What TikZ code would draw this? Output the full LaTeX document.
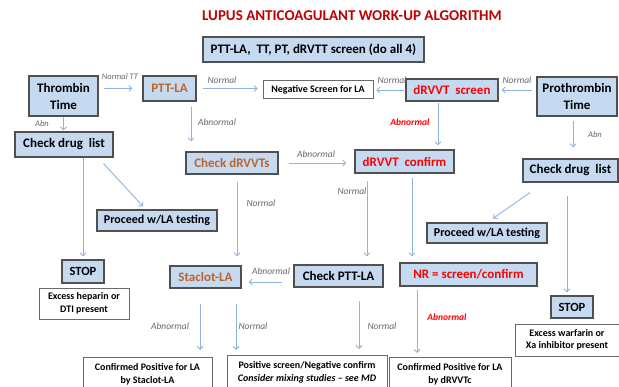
\documentclass[tikz,border=0pt]{standalone}
\usepackage{fontspec}
\setmainfont{Carlito}
\usetikzlibrary{arrows.meta,calc}
\definecolor{boxfill}{RGB}{197,217,241}
\definecolor{boxline}{RGB}{80,80,80}
\definecolor{arrc}{RGB}{141,180,226}
\definecolor{brownt}{RGB}{190,100,40}
\definecolor{titlered}{RGB}{192,0,0}
\definecolor{lblgray}{RGB}{105,105,105}
\begin{document}
\begin{tikzpicture}[x=1pt,y=-1pt,
  bluebox/.style={draw=boxline, line width=1.1pt, fill=boxfill, inner sep=0pt, align=center,
    font=\fontsize{13}{17}\selectfont\bfseries},
  whitebox/.style={draw=boxline!85, line width=0.8pt, fill=white, inner sep=0pt, align=center,
    font=\fontsize{10}{12.5}\selectfont\bfseries},
  arr/.style={draw=arrc, line width=0.9pt, -{Straight Barb[length=3pt,width=6pt]}},
  lbl/.style={font=\fontsize{9.5}{10}\selectfont\itshape, text=lblgray, inner sep=0pt},
  rlbl/.style={lbl, text=red, font=\fontsize{9.5}{10}\selectfont\bfseries\itshape},
]
\useasboundingbox[fill=white] (0,0) rectangle (619,387);

% title
\node[font=\fontsize{15}{18}\selectfont\bfseries, text=titlered, inner sep=0pt] (title) at (352,16) {LUPUS ANTICOAGULANT WORK-UP ALGORITHM};

% labels (drawn first so boxes may overlap them)
\node[lbl, font=\fontsize{8.5}{10}\selectfont\itshape] (l1) at (120,77) {Normal TT};
\node[lbl] (l2) at (222,80) {Normal};
\node[lbl] (l3) at (392,80) {Normal};
\node[lbl] (l4) at (517,80) {Normal};
\node[lbl, font=\fontsize{8.5}{10}\selectfont\itshape] (l5) at (42,124) {Abn};
\node[lbl] (l6) at (217,122) {Abnormal};
\node[rlbl] (l7) at (410,122) {Abnormal};
\node[lbl, font=\fontsize{8.5}{10}\selectfont\itshape] (l8) at (595,135) {Abn};
\node[lbl] (l9) at (316,154) {Abnormal};
\node[lbl] (l10) at (261,203) {Normal};
\node[lbl] (l11) at (352,191) {Normal};
\node[lbl] (l12) at (271,271) {Abnormal};
\node[lbl] (l13) at (170,326) {Abnormal};
\node[lbl] (l14) at (253,326) {Normal};
\node[lbl] (l15) at (382,326) {Normal};
\node[rlbl] (l16) at (447,317) {Abnormal};

% blue boxes
\node[bluebox, minimum width=221, minimum height=25] (top) at (313.5,49.5) {PTT-LA,\ \ TT, PT, dRVTT screen (do all 4)};
\node[bluebox, minimum width=69, minimum height=40] (thr) at (63.5,96) {Thrombin\\Time};
\node[bluebox, minimum width=53, minimum height=25, text=brownt] (ptt) at (169.5,88.5) {PTT-LA};
\node[bluebox, minimum width=92, minimum height=22, text=red] (drs) at (452,90) {dRVVT\ \ screen};
\node[bluebox, minimum width=80, minimum height=39] (pro) at (577,96.5) {Prothrombin\\Time};
\node[bluebox, minimum width=98, minimum height=25] (cdl) at (64,144.5) {Check drug\ \ list};
\node[bluebox, minimum width=92, minimum height=22, text=brownt] (cdv) at (232,163) {Check dRVVTs};
\node[bluebox, minimum width=99, minimum height=23, text=red] (dcf) at (404.5,161.5) {dRVVT\ \ confirm};
\node[bluebox, minimum width=95, minimum height=23] (cdr) at (570.5,170.5) {Check drug\ \ list};
\node[bluebox, minimum width=120, minimum height=21, font=\fontsize{12}{14}\selectfont\bfseries] (prl) at (157,220.5) {Proceed w/LA testing};
\node[bluebox, minimum width=120, minimum height=20, font=\fontsize{12}{14}\selectfont\bfseries] (prr) at (487,233) {Proceed w/LA testing};
\node[bluebox, minimum width=42, minimum height=23, font=\fontsize{12.5}{14}\selectfont\bfseries] (stl) at (83,271.5) {STOP};
\node[bluebox, minimum width=71, minimum height=22, text=brownt] (stc) at (205.5,277) {Staclot-LA};
\node[bluebox, minimum width=89, minimum height=22] (cpt) at (338.5,276) {Check PTT-LA};
\node[bluebox, minimum width=137, minimum height=23, text=red] (nr) at (468.5,274.5) {NR = screen/confirm};
\node[bluebox, minimum width=42, minimum height=22, font=\fontsize{12.5}{14}\selectfont\bfseries] (str) at (572,307) {STOP};

% white boxes
\node[whitebox, minimum width=110, minimum height=18] (neg) at (318,89.5) {Negative Screen for LA};
\node[whitebox, minimum width=90, minimum height=31] (exh) at (84,303.5) {Excess heparin or\\DTI present};
\node[whitebox, minimum width=104, minimum height=32] (exw) at (567,340) {Excess warfarin or\\Xa inhibitor present};
\node[whitebox, minimum width=129, minimum height=34, anchor=north] (cfs) at (147.5,357) {Confirmed Positive for LA\\by Staclot-LA};
\node[whitebox, minimum width=160, minimum height=34, anchor=north] (pos) at (307,355) {Positive screen/Negative confirm\\\textit{Consider mixing studies -- see MD}};
\node[whitebox, minimum width=122, minimum height=34, anchor=north] (cfd) at (450,357) {Confirmed Positive for LA\\by dRVVTc};

% connectors
\draw[arr, shorten <=5pt, shorten >=10pt] (thr.east |- ptt.west) -- (ptt.west);
\draw[arr, shorten <=6pt, shorten >=5pt] (ptt.east) -- (ptt.east -| neg.west);
\draw[arr, shorten <=1pt, shorten >=3pt] (drs.west) -- (drs.west -| neg.east);
\draw[arr, shorten <=4pt, shorten >=3pt] (pro.west |- drs.east) -- (drs.east);
\draw[arr, shorten >=1pt] (thr.south) -- (thr.south |- cdl.north);
\draw[arr, shorten <=5pt, shorten >=10pt] ([xshift=21.5pt]ptt.south) -- ([xshift=21.5pt]ptt.south |- cdv.north);
\draw[arr, shorten <=1pt, shorten >=4pt] ([xshift=-14pt]drs.south) -- ([xshift=-14pt]drs.south |- dcf.north);
\draw[arr, shorten <=10pt, shorten >=8pt] (cdv.east) -- (cdv.east -| dcf.west);
\draw[arr, shorten <=4pt, shorten >=11pt] ([xshift=-4pt]pro.south) -- ([xshift=-4pt]pro.south |- cdr.north);
\draw[arr, shorten >=3pt] (stl.north |- cdl.south) -- (stl.north);
\draw[arr] ($(cdl.south east)+(-10,6)$) -- ($(prl.north)+(-14,-3)$);
\draw[arr, shorten <=7pt, shorten >=9pt] ([xshift=5pt]cdv.south) -- ([xshift=5pt]cdv.south |- stc.north);
\draw[arr, shorten <=7pt, shorten >=8pt] ([xshift=-37.5pt]dcf.south) -- ([xshift=-37.5pt]dcf.south |- cpt.north);
\draw[arr, shorten <=4pt, shorten >=6pt] ([xshift=7.5pt]dcf.south) -- ([xshift=7.5pt]dcf.south |- nr.north);
\draw[arr] ($(cdr.south)+(-40.5,10)$) -- ($(prr.north)+(6,-4)$);
\draw[arr, shorten <=13pt, shorten >=3pt] ([xshift=-3.5pt]cdr.south) -- ([xshift=-3.5pt]cdr.south |- str.north);
\draw[arr] ($(cpt.west)+(-11,6)$) -- ($(stc.east)+(7,5)$);
\draw[arr, shorten <=15pt, shorten >=7pt] ([xshift=-5.5pt]stc.south) -- ([xshift=-5.5pt]stc.south |- cfs.north);
\draw[arr, shorten <=15pt, shorten >=5pt] ([xshift=30.5pt]stc.south) -- ([xshift=30.5pt]stc.south |- pos.north);
\draw[arr, shorten <=13pt, shorten >=6pt] ([xshift=20.5pt]cpt.south) -- ([xshift=20.5pt]cpt.south |- pos.north);
\draw[arr, shorten <=3pt, shorten >=4pt] ([xshift=-51.5pt]nr.south) -- ([xshift=-51.5pt]nr.south |- cfd.north);
\end{tikzpicture}
\end{document}
